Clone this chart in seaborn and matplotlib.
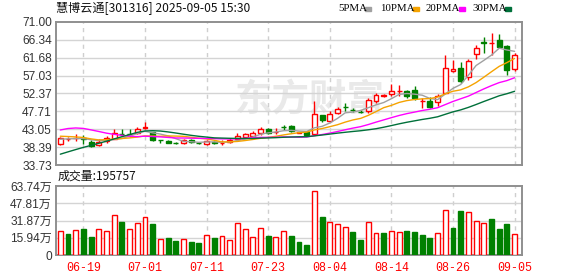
import numpy as np
import pandas as pd
import matplotlib
matplotlib.use("Agg")
import matplotlib.pyplot as plt
from matplotlib.patches import Rectangle
import seaborn as sns

# ---------------- data ----------------
title = "慧博云通[301316] 2025-09-05 15:30"
dates = pd.bdate_range(end="2025-09-05", periods=60).strftime("%m-%d").tolist()

opens = [39.2, 40.6, 40.75, 40.75, 39.8, 38.94, 39.98, 40.66, 41.95, 41.98,
         42.2, 43.5, 42.4, 40.3, 40.05, 39.6, 39.45, 40.3, 39.6, 39.28,
         39.7, 39.5, 39.8, 40.5, 41.1, 41.3, 42.06, 43.18, 42.3, 43.65,
         43.95, 42.2, 42.3, 41.8, 46.7, 45.34, 47.27, 48.9, 48.2, 47.65,
         47.7, 50.47, 51.7, 52.2, 53.0, 52.9, 53.33, 50.4, 50.47, 50.03,
         52.5, 58.3, 58.98, 56.64, 62.6, 65.75, 65.4, 66.35, 64.79, 58.72]
highs = [41.0, 41.1, 41.9, 41.7, 40.24, 40.66, 41.36, 43.1, 43.1, 43.1,
         43.7, 45.0, 42.5, 40.4, 40.3, 39.9, 40.6, 40.5, 39.8, 40.4,
         40.0, 40.3, 40.7, 42.2, 42.2, 42.6, 43.6, 43.3, 43.4, 44.3,
         44.1, 42.5, 42.4, 50.3, 46.9, 47.7, 48.8, 49.8, 48.7, 48.0,
         51.07, 52.5, 52.3, 54.8, 54.6, 53.3, 54.2, 51.17, 51.43, 52.3,
         62.26, 60.96, 60.63, 61.4, 65.05, 66.95, 68.1, 67.9, 64.9, 62.9]
lows = [39.1, 40.0, 40.0, 39.35, 38.6, 38.8, 39.5, 40.5, 41.36, 41.1,
        41.96, 43.1, 40.0, 39.5, 39.4, 39.3, 39.3, 39.5, 39.3, 39.1,
        39.3, 39.1, 39.6, 40.3, 41.0, 41.1, 41.7, 41.9, 41.9, 42.9,
        42.4, 42.1, 41.4, 41.6, 44.9, 45.2, 47.0, 47.9, 47.6, 47.3,
        47.4, 50.0, 51.5, 51.6, 51.77, 51.3, 50.8, 48.7, 48.57, 49.25,
        52.4, 57.94, 55.08, 55.94, 61.33, 62.9, 62.45, 64.19, 57.06, 58.1]
closes = [40.84, 40.66, 40.84, 40.66, 38.75, 39.8, 40.84, 42.2, 41.88, 41.9,
          43.1, 43.7, 40.2, 40.25, 39.55, 39.5, 40.2, 39.7, 39.5, 40.06,
          39.55, 39.6, 40.2, 41.36, 41.9, 42.2, 43.26, 42.06, 42.45, 43.55,
          42.66, 42.35, 41.6, 47.1, 45.5, 47.0, 48.35, 48.8, 48.1, 47.6,
          50.55, 52.03, 51.85, 53.07, 53.1, 51.77, 51.17, 50.5, 48.83, 51.6,
          58.98, 58.6, 55.5, 60.88, 64.2, 65.6, 65.5, 64.45, 58.54, 62.45]
# closes before the visible window (needed for the moving averages)
prior_closes = [22.5, 23.0, 23.5, 23.2, 23.8, 24.2, 24.5, 24.8, 25.3, 25.7,
                33.0, 38.0, 43.0, 46.5, 48.0, 49.5, 48.5, 47.0, 46.0, 45.6,
                41.5, 41.8, 42.2, 42.4, 42.4, 40.2, 40.6, 40.5, 40.36]
volumes_wan = [22.1, 19.3, 23.0, 23.9, 16.6, 23.7, 22.1, 36.6, 30.4, 23.9,
               29.5, 34.7, 28.6, 14.5, 15.7, 12.9, 14.5, 12.0, 11.1, 18.1,
               15.7, 17.2, 13.8, 29.2, 23.7, 16.3, 24.6, 17.5, 16.3, 21.8,
               17.5, 12.0, 9.2, 59.0, 35.0, 30.4, 28.6, 25.8, 21.2, 13.8,
               30.4, 20.3, 20.3, 22.1, 21.2, 22.1, 21.2, 18.4, 15.7, 20.3,
               41.4, 24.9, 40.5, 39.6, 31.3, 29.5, 33.2, 23.9, 28.6, 19.5757]

price_ticks = [33.73, 38.39, 43.05, 47.71, 52.37, 57.03, 61.68, 66.34, 71.00]
vol_ticks = [0, 15.94, 31.87, 47.81, 63.74]
vol_tick_labels = ["0", "15.94万", "31.87万", "47.81万", "63.74万"]
x_tick_labels = ["06-19", "07-01", "07-11", "07-23", "08-04", "08-14", "08-26", "09-05"]
ma_periods = [5, 10, 20, 30]
ma_names = ["5PMA", "10PMA", "20PMA", "30PMA"]
ma_colors = ["#a0a0a0", "#f5a300", "#ff00ff", "#00703a"]

UP = "#ff0000"
DOWN = "#008000"

# ---------------- frames ----------------
n = len(closes)
df = pd.DataFrame({"idx": np.arange(n), "date": dates, "open": opens, "high": highs,
                   "low": lows, "close": closes, "vol": volumes_wan})
df["up"] = df["close"] >= df["open"]
full = pd.Series(prior_closes + closes)
prev_close = full.shift(1).iloc[len(prior_closes):].to_numpy()
df["vup"] = df["close"].to_numpy() >= prev_close

ma_frames = []
for p, name in zip(ma_periods, ma_names):
    m = full.rolling(p).mean().iloc[len(prior_closes):].to_numpy()
    ma_frames.append(pd.DataFrame({"idx": df["idx"], "value": m, "ma": name}))
ma_long = pd.concat(ma_frames, ignore_index=True)

tick_pos = [dates.index(t) for t in x_tick_labels]

# ---------------- figure ----------------
sns.set_theme(style="white")
plt.rcParams["font.family"] = ["Liberation Sans", "Noto Sans CJK SC", "DejaVu Sans"]

W, H = 578, 276
fig = plt.figure(figsize=(W / 100, H / 100), dpi=100)
fig.patch.set_facecolor("white")
ax = fig.add_axes([56 / W, 1 - 165.3 / H, 466 / W, (165.3 - 21.7) / H])
axv = fig.add_axes([56 / W, 1 - 255 / H, 466 / W, (255 - 186) / H])

SPINE = "#8f8f8f"
GRID = "#d4d4d4"
for a in (ax, axv):
    a.set_facecolor("white")
    a.set_xlim(-0.56, 59.96)
    for s in a.spines.values():
        s.set_color(SPINE)
        s.set_linewidth(1.4)
    a.set_xticks(tick_pos)
    a.grid(False)
    for p in tick_pos:
        a.axvline(p, color="#cfcfcf", lw=1, ls=(0, (3, 3)), zorder=0)
    a.tick_params(axis="both", length=0, labelsize=8.6, labelcolor="#333333", pad=3)

# watermark
fig.text(310 / W, 1 - 100 / H, "东方财富", fontsize=27, fontweight="bold",
         color="#e9e9e9", ha="center", va="center", zorder=0,
         family=["Noto Sans CJK SC"])
ax.set_zorder(1)
ax.patch.set_alpha(0)

# price grid
ax.set_ylim(33.73, 71.0)
ax.set_yticks(price_ticks)
ax.set_yticklabels([f"{v:.2f}" for v in price_ticks])
for v in price_ticks[1:-1]:
    ax.axhline(v, color=GRID, lw=1, zorder=0)
ax.set_xticklabels([])

# candles
ccol = np.where(df["up"], UP, DOWN)
ax.vlines(df["idx"], df["low"], df["high"], colors=ccol, lw=1, zorder=2)
body_h = (df["close"] - df["open"]).abs().clip(lower=0.04)
body_b = df[["open", "close"]].min(axis=1)
ax.bar(df["idx"], body_h, bottom=body_b, width=0.64,
       color=np.where(df["up"], "white", DOWN), edgecolor=ccol, linewidth=1, zorder=3)

# moving averages
sns.lineplot(data=ma_long, x="idx", y="value", hue="ma", hue_order=ma_names,
             palette=dict(zip(ma_names, ma_colors)), ax=ax, legend=False,
             linewidth=1, zorder=4)
ax.set_xlabel("")
ax.set_ylabel("")

# volume
axv.set_ylim(0, 63.74)
axv.set_yticks(vol_ticks)
axv.set_yticklabels(vol_tick_labels)
for v in vol_ticks[1:-1]:
    axv.axhline(v, color=GRID, lw=1, zorder=0)
vcol = np.where(df["vup"], UP, DOWN)
axv.bar(df["idx"], df["vol"], width=0.64, color=np.where(df["vup"], "white", DOWN),
        edgecolor=vcol, linewidth=1, zorder=3)
axv.set_xticklabels(x_tick_labels)
axv.tick_params(axis="x", labelcolor=UP, pad=5)
for lab in axv.get_xticklabels():
    lab.set_family(["Liberation Mono"])
    lab.set_fontsize(8.4)

# header texts
fig.text(56 / W, 1 - 8.5 / H, title, ha="left", va="center", fontsize=8.7,
         color="#111111", family=["Noto Sans CJK SC", "DejaVu Sans"])
fig.text(58 / W, 1 - 176.5 / H, f"成交量:{round(df['vol'].iloc[-1] * 10000)}",
         ha="left", va="center", fontsize=8.6, color="#111111",
         family=["Noto Sans CJK SC", "DejaVu Sans"])

# legend
leg_x = [338, 380, 426, 472]
sq_x = [365, 413, 459, 505]
for name, col, lx, sx in zip(ma_names, ma_colors, leg_x, sq_x):
    fig.text(lx / W, 1 - 8.5 / H, name, ha="left", va="center", fontsize=7.8,
             color="#000000", family=["Liberation Serif"])
    fig.patches.append(Rectangle((sx / W, 1 - 10.5 / H), 5.5 / W, 4 / H,
                                 transform=fig.transFigure, color=col))

fig.savefig("out.png", dpi=100, facecolor="white")
